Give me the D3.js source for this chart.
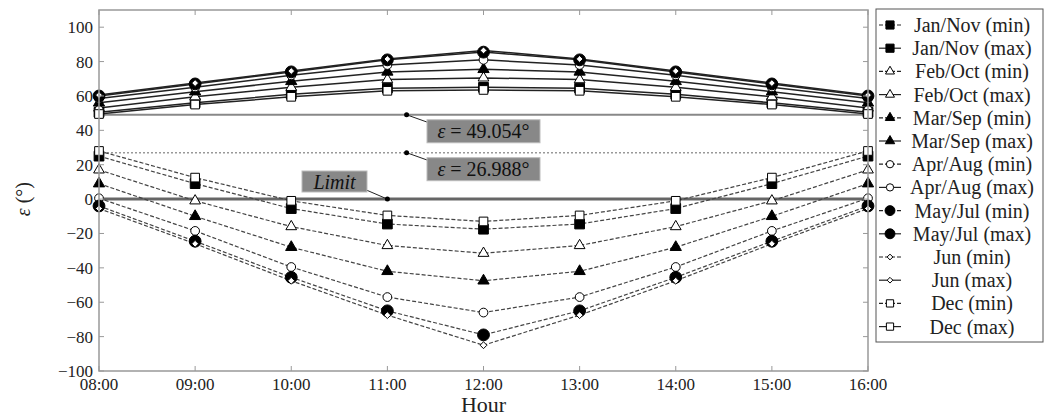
<!DOCTYPE html>
<meta charset="utf-8">
<head>
	<script src="https://d3js.org/d3.v7.min.js"></script>
</head>
<style type="text/css">
	body { margin: 0; background: #fff; }
	svg { display: block; font-family: "Liberation Serif", serif; }
	.tick-label { font-size: 17px; fill: #222; }
</style>
<body>
<script>
	// hours on the x axis
	var hours = [8, 9, 10, 11, 12, 13, 14, 15, 16];
	var hourLabels = ["08:00", "09:00", "10:00", "11:00", "12:00", "13:00", "14:00", "15:00", "16:00"];
	var yTicks = [-100, -80, -60, -40, -20, 0, 20, 40, 60, 80, 100];

	var groups = ["Jan/Nov", "Feb/Oct", "Mar/Sep", "Apr/Aug", "May/Jul", "Jun", "Dec"];

	// max values (solid lines, upper band)
	var maxJanNov = [50.5, 56, 61, 64.5, 65, 64.5, 61, 56, 50.5];
	var maxFebOct = [53, 59.5, 65, 69.5, 70.5, 69.5, 65, 59.5, 53];
	var maxMarSep = [56, 62.5, 68.5, 74, 75.5, 74, 68.5, 62.5, 56];
	var maxAprAug = [58.5, 65, 72, 78, 81, 78, 72, 65, 58.5];
	var maxMayJul = [60, 67, 74, 81, 85.5, 81, 74, 67, 60];
	var maxJun = [60.5, 67.5, 74.5, 81.5, 86.5, 81.5, 74.5, 67.5, 60.5];
	var maxDec = [49.5, 55, 59.5, 63, 63.5, 63, 59.5, 55, 49.5];

	// min values (dashed lines, lower band)
	var minJanNov = [25, 9, -5.5, -14.5, -17.5, -14.5, -5.5, 9, 25];
	var minFebOct = [17, -1, -16, -27, -31.5, -27, -16, -1, 17];
	var minMarSep = [9, -10, -28, -42, -47.5, -42, -28, -10, 9];
	var minAprAug = [0.5, -18.5, -39.5, -57, -66, -57, -39.5, -18.5, 0.5];
	var minMayJul = [-4, -24.5, -45.5, -65, -79, -65, -45.5, -24.5, -4];
	var minJun = [-5.5, -26, -47.5, -67.5, -85, -67.5, -47.5, -26, -5.5];
	var minDec = [28, 12.5, -1, -9.5, -13, -9.5, -1, 12.5, 28];

	var limits = [
		{ value: 49.054, text: "49.054" },
		{ value: 26.988, text: "26.988" }
	];

	var maxSeries = [maxJanNov, maxFebOct, maxMarSep, maxAprAug, maxMayJul, maxJun, maxDec];
	var minSeries = [minJanNov, minFebOct, minMarSep, minAprAug, minMayJul, minJun, minDec];
	var symbols = [d3.symbolSquare, d3.symbolTriangle, d3.symbolTriangle, d3.symbolCircle, d3.symbolCircle, d3.symbolDiamond2, d3.symbolSquare];
	var filled = [true, false, true, false, true, false, false];
	var sizes = [95, 50, 55, 60, 110, 30, 75];

	var width = 1046, height = 419;
	var plot = { left: 99, right: 868, top: 10, bottom: 371 };

	var svg = d3.select("body").append("svg")
		.attr("width", width)
		.attr("height", height);

	var x = d3.scaleLinear().domain([8, 16]).range([plot.left, plot.right]);
	var y = d3.scaleLinear().domain([-100, 110]).range([plot.bottom, plot.top]);

	var series = [];
	groups.forEach(function(g, i) {
		series.push({ name: g + " (min)", values: minSeries[i], kind: "min", gi: i });
		series.push({ name: g + " (max)", values: maxSeries[i], kind: "max", gi: i });
	});

	// horizontal reference lines
	svg.append("line")
		.attr("x1", plot.left).attr("x2", plot.right)
		.attr("y1", y(limits[0].value)).attr("y2", y(limits[0].value))
		.attr("stroke", "#888").attr("stroke-width", 2);
	svg.append("line")
		.attr("x1", plot.left).attr("x2", plot.right)
		.attr("y1", y(limits[1].value)).attr("y2", y(limits[1].value))
		.attr("stroke", "#999").attr("stroke-width", 1.5)
		.attr("stroke-dasharray", "2,2");
	svg.append("line")
		.attr("x1", plot.left).attr("x2", plot.right)
		.attr("y1", y(0)).attr("y2", y(0))
		.attr("stroke", "#666").attr("stroke-width", 3);

	var line = d3.line()
		.x(function(d, i) { return x(hours[i]); })
		.y(function(d) { return y(d); });

	var gLines = svg.append("g");
	series.forEach(function(s) {
		gLines.append("path")
			.attr("d", line(s.values))
			.attr("fill", "none")
			.attr("stroke", s.kind == "max" ? "#222" : "#444")
			.attr("stroke-width", s.kind == "max" ? 1.5 : 1.2)
			.attr("stroke-dasharray", s.kind == "max" ? null : "4,2");
	});

	function drawMarker(sel, gi, cx, cy, scale) {
		var sym = d3.symbol().type(symbols[gi]).size(sizes[gi] * (scale || 1));
		sel.append("path")
			.attr("d", sym())
			.attr("transform", "translate(" + cx + "," + cy + ")")
			.attr("fill", filled[gi] ? "#000" : "#fff")
			.attr("stroke", "#000")
			.attr("stroke-width", 1);
	}

	var gMarks = svg.append("g");
	series.forEach(function(s) {
		s.values.forEach(function(v, i) {
			drawMarker(gMarks, s.gi, x(hours[i]), y(v));
		});
	});

	// frame
	svg.append("rect")
		.attr("x", plot.left).attr("y", plot.top)
		.attr("width", plot.right - plot.left).attr("height", plot.bottom - plot.top)
		.attr("fill", "none").attr("stroke", "#999").attr("stroke-width", 1.5);

	// ticks inside
	var gTicks = svg.append("g").attr("stroke", "#999").attr("stroke-width", 1);
	hours.forEach(function(h) {
		gTicks.append("line").attr("x1", x(h)).attr("x2", x(h)).attr("y1", plot.bottom).attr("y2", plot.bottom - 5);
		gTicks.append("line").attr("x1", x(h)).attr("x2", x(h)).attr("y1", plot.top).attr("y2", plot.top + 5);
	});
	yTicks.forEach(function(t) {
		gTicks.append("line").attr("x1", plot.left).attr("x2", plot.left + 5).attr("y1", y(t)).attr("y2", y(t));
		gTicks.append("line").attr("x1", plot.right).attr("x2", plot.right - 5).attr("y1", y(t)).attr("y2", y(t));
	});

	// tick labels
	svg.append("g").selectAll("text")
		.data(hours)
	 .enter().append("text")
		.attr("class", "tick-label")
		.attr("x", function(d) { return x(d); })
		.attr("y", plot.bottom + 19)
		.attr("text-anchor", "middle")
		.text(function(d, i) { return hourLabels[i]; });

	svg.append("g").selectAll("text")
		.data(yTicks)
	 .enter().append("text")
		.attr("class", "tick-label")
		.attr("x", plot.left - 6)
		.attr("y", function(d) { return y(d); })
		.attr("dy", "0.35em")
		.attr("text-anchor", "end")
		.text(function(d) { return d < 0 ? "\u2212" + Math.abs(d) : d; });

	// axis titles
	svg.append("text")
		.attr("x", x(12)).attr("y", 412)
		.attr("text-anchor", "middle")
		.style("font-size", "22px").attr("fill", "#222")
		.text("Hour");

	var yl = svg.append("text")
		.attr("transform", "translate(30," + y(0) + ") rotate(-90)")
		.attr("text-anchor", "middle")
		.style("font-size", "20px").attr("fill", "#222");
	yl.append("tspan").style("font-style", "italic").text("\u03b5");
	yl.append("tspan").text(" (\u00b0)");

	// annotations
	var annX = 11.2;
	limits.forEach(function(l, i) {
		var px = x(annX), py = y(l.value);
		var bx = 427, by = py + 5, bw = 113, bh = 23;
		svg.append("line").attr("x1", px).attr("y1", py).attr("x2", bx + 2).attr("y2", by + 3)
			.attr("stroke", "#222").attr("stroke-width", 1);
		svg.append("circle").attr("cx", px).attr("cy", py).attr("r", 2.5).attr("fill", "#000");
		svg.append("rect").attr("x", bx).attr("y", by).attr("width", bw).attr("height", bh)
			.attr("fill", "#888").attr("stroke", "#bbb").attr("stroke-width", 1);
		var t = svg.append("text").attr("x", bx + bw / 2).attr("y", by + bh / 2).attr("dy", "0.35em")
			.attr("text-anchor", "middle").style("font-size", "20px").attr("fill", "#111");
		t.append("tspan").style("font-style", "italic").text("\u03b5");
		t.append("tspan").text(" = " + l.text + "\u00b0");
	});

	// limit label
	var lx = x(11), ly = y(0);
	svg.append("line").attr("x1", 364).attr("y1", 189).attr("x2", lx).attr("y2", ly)
		.attr("stroke", "#222").attr("stroke-width", 1);
	svg.append("circle").attr("cx", lx).attr("cy", ly).attr("r", 2.5).attr("fill", "#000");
	svg.append("rect").attr("x", 302).attr("y", 171).attr("width", 65).attr("height", 21)
		.attr("fill", "#888").attr("stroke", "#bbb").attr("stroke-width", 1);
	svg.append("text").attr("x", 334.5).attr("y", 181.5).attr("dy", "0.35em")
		.attr("text-anchor", "middle").style("font-size", "20px").style("font-style", "italic")
		.attr("fill", "#111").text("Limit");

	// legend
	var leg = { x: 876, y: 9, w: 167, h: 333, step: 23.2, first: 25 };
	svg.append("rect").attr("x", leg.x).attr("y", leg.y).attr("width", leg.w).attr("height", leg.h)
		.attr("fill", "#fff").attr("stroke", "#555").attr("stroke-width", 1);
	series.forEach(function(s, i) {
		var ry = leg.first + i * leg.step;
		svg.append("line").attr("x1", leg.x + 3).attr("x2", leg.x + 25).attr("y1", ry).attr("y2", ry)
			.attr("stroke", "#222").attr("stroke-width", 1.2)
			.attr("stroke-dasharray", s.kind == "max" ? null : "4,2");
		drawMarker(svg, s.gi, leg.x + 14, ry, 0.7);
		svg.append("text").attr("x", 972).attr("y", ry).attr("dy", "0.35em")
			.attr("text-anchor", "middle").style("font-size", "20px").attr("fill", "#222")
			.text(s.name);
	});
</script>
</body>
